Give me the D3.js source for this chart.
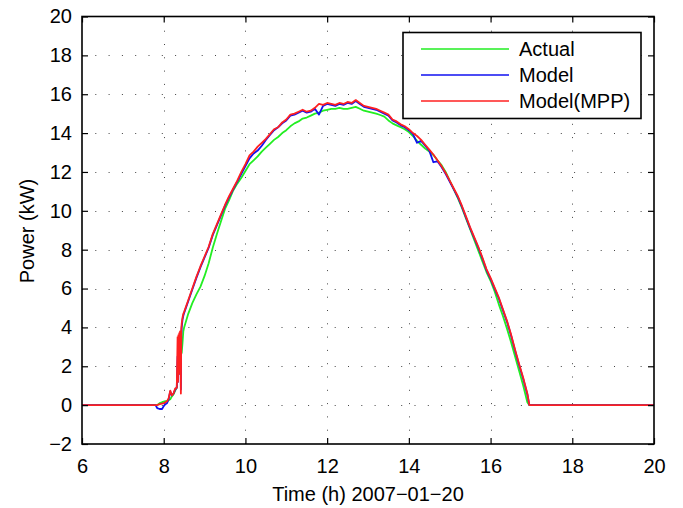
<!DOCTYPE html>
<meta charset="utf-8">
<script src="https://d3js.org/d3.v7.min.js"></script>
<style>
  body { margin: 0; background: #fff; }
  text { font-family: "Liberation Sans", Arial, Helvetica, sans-serif; fill: #000; }
</style>
<div id="chart"></div>
<script>

// time axis (hours) shared by the three series
var hours = [6, 7.8, 7.84, 7.9, 7.96, 8.0, 8.04, 8.08, 8.12, 8.16, 8.2, 8.24, 8.28, 8.32,
  8.34, 8.35, 8.36, 8.37, 8.38, 8.39, 8.40, 8.41, 8.42, 8.43, 8.44, 8.46, 8.48,
  8.5, 8.6, 8.7, 8.8, 8.9, 9.0, 9.1, 9.2, 9.3, 9.4,
  9.5, 9.6, 9.7, 9.8, 9.9, 10.0, 10.1, 10.2, 10.3, 10.4,
  10.5, 10.6, 10.7, 10.8, 10.9, 11.0, 11.1, 11.2, 11.3, 11.4,
  11.5, 11.6, 11.7, 11.8, 11.9, 12.0, 12.1, 12.2, 12.3, 12.4,
  12.5, 12.6, 12.7, 12.8, 12.9, 13.0, 13.1, 13.2, 13.3, 13.4,
  13.5, 13.6, 13.7, 13.8, 13.9, 14.0, 14.1, 14.2, 14.3, 14.4,
  14.5, 14.6, 14.7, 14.8, 14.9, 15.0, 15.1, 15.2, 15.3, 15.4,
  15.5, 15.6, 15.7, 15.8, 15.9, 16.0, 16.1, 16.2, 16.3, 16.4,
  16.5, 16.6, 16.7, 16.8, 16.9, 16.95, 17.0, 20];

// Actual (kW)
var actual = [0, 0, 0, 0.1, 0.15, 0.18, 0.2, 0.22, 0.25, 0.3, 0.45, 0.55, 0.75, 0.9,
  1.5, 1.9, 2.15, 2.2, 2.3, 2.4, 2.5, 2.55, 2.6, 2.65, 2.7, 3.2, 3.8,
  4.0, 4.7, 5.25, 5.7, 6.1, 6.65, 7.3, 8.1, 8.8, 9.45,
  10.1, 10.55, 11.05, 11.4, 11.7, 12.05, 12.4, 12.6, 12.8, 13.05,
  13.25, 13.45, 13.65, 13.8, 14.0, 14.15, 14.35, 14.5, 14.6, 14.75,
  14.8, 14.9, 15.0, 15.05, 15.15, 15.2, 15.25, 15.25, 15.3, 15.25,
  15.25, 15.3, 15.35, 15.25, 15.15, 15.1, 15.05, 15.0, 14.93, 14.85,
  14.65, 14.5, 14.4, 14.3, 14.2, 14.05, 13.85, 13.6, 13.4, 13.2,
  13.05, 12.87, 12.6, 12.35, 12.0, 11.55, 11.1, 10.65, 10.15, 9.6,
  9.05, 8.5, 7.95, 7.4, 6.85, 6.4, 5.85, 5.2, 4.6, 3.95,
  3.25, 2.5, 1.75, 1.0, 0.15, 0, 0, 0];

// Model (kW)
var model = [0, 0, -0.15, -0.2, -0.2, -0.05, 0.05, 0.1, 0.3, 0.7, 0.5, 0.6, 0.8, 0.9,
  2.5, 1.2, 2.4, 1.6, 3.0, 2.4, 3.3, 3.0, 0.8, 3.6, 4.0, 4.4, 4.6,
  4.75, 5.35, 5.95, 6.55, 7.1, 7.6, 8.1, 8.75, 9.25, 9.75,
  10.25, 10.7, 11.1, 11.5, 11.9, 12.3, 12.7, 12.95, 13.1, 13.35,
  13.65, 13.9, 14.15, 14.3, 14.5, 14.65, 14.9, 14.95, 15.05, 15.15,
  15.05, 15.1, 15.25, 14.95, 15.4, 15.5, 15.45, 15.4, 15.5, 15.45,
  15.55, 15.5, 15.65, 15.5, 15.35, 15.3, 15.25, 15.2, 15.1, 15.0,
  14.9, 14.65, 14.55, 14.4, 14.3, 14.15, 13.95, 13.5, 13.6, 13.35,
  13.1, 12.5, 12.55, 12.25, 11.9, 11.5, 11.1, 10.7, 10.2, 9.65,
  9.1, 8.6, 8.1, 7.55, 6.95, 6.5, 6.0, 5.5, 4.9, 4.3,
  3.6, 2.8, 2.05, 1.35, 0.55, 0, 0, 0];

// Model(MPP) (kW)
var modelMpp = [0, 0, 0, 0.05, 0.08, 0.1, 0.15, 0.2, 0.35, 0.75, 0.5, 0.6, 0.85, 0.9,
  3.5, 1.2, 3.6, 1.6, 3.7, 2.6, 3.8, 3.4, 0.6, 3.9, 4.2, 4.5, 4.7,
  4.8, 5.4, 6.0, 6.6, 7.15, 7.65, 8.15, 8.8, 9.3, 9.8,
  10.3, 10.75, 11.15, 11.55, 12.0, 12.4, 12.85, 13.05, 13.3, 13.5,
  13.7, 13.95, 14.2, 14.3, 14.55, 14.7, 14.95, 15.0, 15.1, 15.2,
  15.1, 15.15, 15.3, 15.5, 15.45, 15.55, 15.5, 15.45, 15.55, 15.5,
  15.6, 15.55, 15.7, 15.55, 15.4, 15.35, 15.3, 15.25, 15.15, 15.05,
  14.95, 14.7, 14.6, 14.45, 14.35, 14.2, 14.0, 13.85, 13.65, 13.4,
  13.15, 12.9, 12.6, 12.3, 11.95, 11.55, 11.15, 10.75, 10.25, 9.7,
  9.15, 8.65, 8.15, 7.6, 7.0, 6.55, 6.05, 5.55, 4.95, 4.35,
  3.65, 2.85, 2.1, 1.4, 0.6, 0, 0, 0];

var seriesNames = ["Actual", "Model", "Model(MPP)"];
var seriesColors = ["#22ee22", "#1010f0", "#ff2020"];
var xTicks = [6, 8, 10, 12, 14, 16, 18, 20];
var yTicks = [-2, 0, 2, 4, 6, 8, 10, 12, 14, 16, 18, 20];

var W = 683, H = 508;
var plotLeft = 82, plotRight = 654, plotTop = 16.5, plotBottom = 444;
var fontSize = "20px";

var svg = d3.select("#chart").append("svg")
  .attr("width", W).attr("height", H);

var x = d3.scaleLinear().domain([6, 20]).range([plotLeft, plotRight]);
var y = d3.scaleLinear().domain([-2, 20]).range([plotBottom, plotTop]);

// dotted grid
var grid = svg.append("g")
  .attr("stroke", "#444")
  .attr("stroke-width", 1)
  .attr("stroke-dasharray", "1,12.3");
grid.selectAll(".gx")
  .data(xTicks.slice(1, -1))
  .enter().append("line")
    .attr("x1", d => Math.round(x(d)) + 0.5).attr("x2", d => Math.round(x(d)) + 0.5)
    .attr("y1", plotBottom).attr("y2", plotTop);
grid.selectAll(".gy")
  .data(yTicks.slice(1, -1))
  .enter().append("line")
    .attr("y1", d => Math.round(y(d)) + 0.5).attr("y2", d => Math.round(y(d)) + 0.5)
    .attr("x1", plotLeft).attr("x2", plotRight);

// lines
var line = d3.line()
  .x(d => x(d[0]))
  .y(d => y(d[1]));

[actual, model, modelMpp].forEach(function(vals, i) {
  svg.append("path")
    .datum(hours.map((h, j) => [h, vals[j]]))
    .attr("fill", "none")
    .attr("stroke", seriesColors[i])
    .attr("stroke-width", 1.8)
    .attr("stroke-linejoin", "round")
    .attr("d", line);
});

// axes with inward ticks
function styleAxis(g) {
  g.select(".domain").remove();
  g.selectAll(".tick line").attr("stroke", "#000").attr("stroke-width", 1.2);
  g.selectAll("text").style("font-size", fontSize).attr("fill", "#000");
}

svg.append("g")
  .attr("transform", "translate(0," + plotBottom + ")")
  .call(d3.axisBottom(x).tickValues(xTicks).tickSize(-6).tickPadding(15).tickFormat(d3.format("d")))
  .call(styleAxis);
svg.append("g")
  .attr("transform", "translate(0," + plotTop + ")")
  .call(d3.axisTop(x).tickValues(xTicks).tickSize(-6).tickFormat(""))
  .call(styleAxis);
svg.append("g")
  .attr("transform", "translate(" + plotLeft + ",0)")
  .call(d3.axisLeft(y).tickValues(yTicks).tickSize(-6).tickPadding(10).tickFormat(d3.format("d")))
  .call(styleAxis);
svg.append("g")
  .attr("transform", "translate(" + plotRight + ",0)")
  .call(d3.axisRight(y).tickValues(yTicks).tickSize(-6).tickFormat(""))
  .call(styleAxis);

// box
svg.append("rect")
  .attr("x", plotLeft).attr("y", plotTop)
  .attr("width", plotRight - plotLeft).attr("height", plotBottom - plotTop)
  .attr("fill", "none").attr("stroke", "#000").attr("stroke-width", 1.6);

// axis labels
svg.append("text")
  .attr("x", 368).attr("y", 501)
  .attr("text-anchor", "middle")
  .style("font-size", fontSize)
  .text("Time (h) 2007\u221201\u221220");

svg.append("text")
  .attr("transform", "translate(34,231) rotate(-90)")
  .attr("text-anchor", "middle")
  .style("font-size", fontSize)
  .text("Power (kW)");

// legend
var legend = svg.append("g");
legend.append("rect")
  .attr("x", 403).attr("y", 32.5)
  .attr("width", 238).attr("height", 86)
  .attr("fill", "#fff").attr("stroke", "#000").attr("stroke-width", 1.6);
seriesNames.forEach(function(name, i) {
  var ly = 49 + i * 26;
  legend.append("line")
    .attr("x1", 421).attr("x2", 509)
    .attr("y1", ly).attr("y2", ly)
    .attr("stroke", seriesColors[i]).attr("stroke-width", 1.6);
  legend.append("text")
    .attr("x", 519).attr("y", ly)
    .attr("dy", "0.36em")
    .style("font-size", fontSize)
    .text(name);
});

</script>
